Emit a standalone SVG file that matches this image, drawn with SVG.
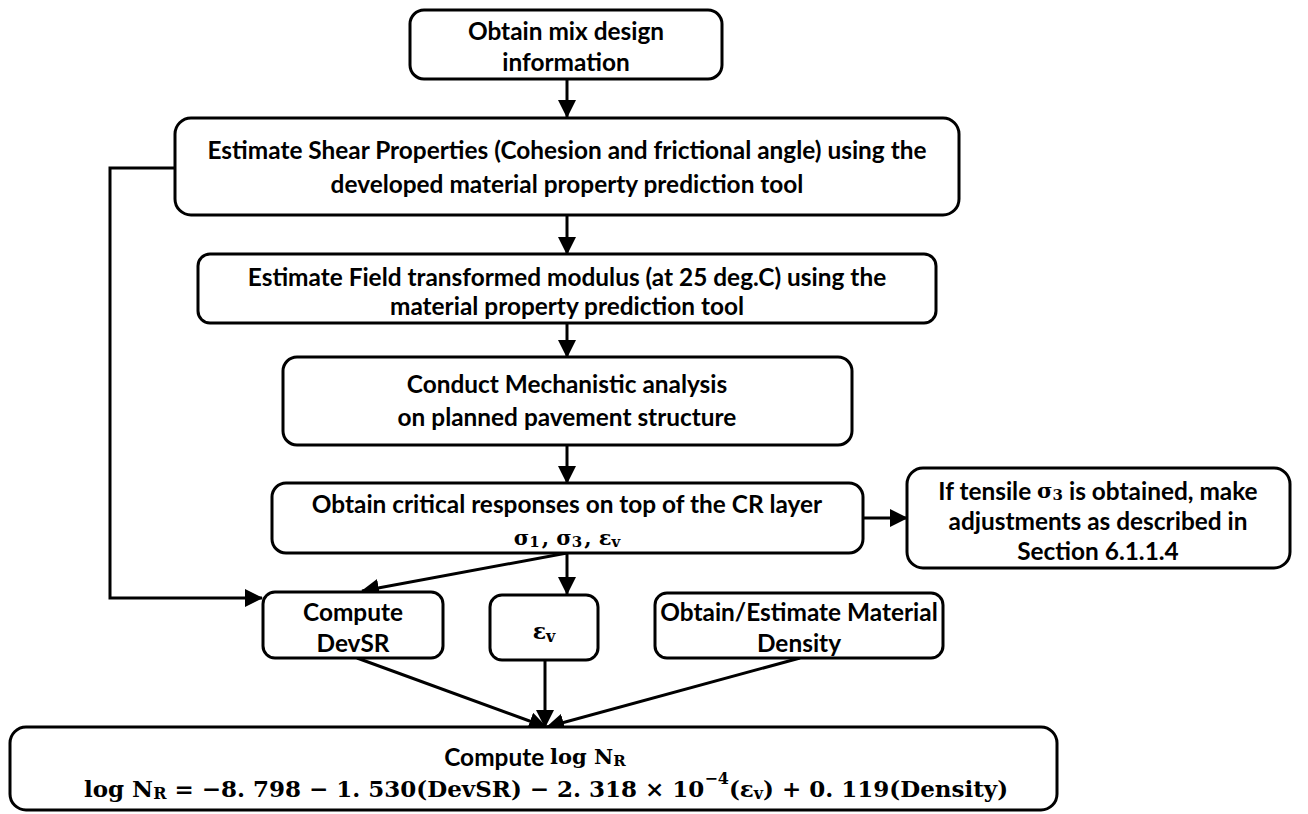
<svg xmlns="http://www.w3.org/2000/svg" width="1308" height="814" viewBox="0 0 1308 814">
  <style>
    .box { fill: #ffffff; stroke: #000000; stroke-width: 3; }
    .t { font-family: Lato, "Open Sans", "Liberation Sans", sans-serif; font-weight: bold; font-size: 24.4px; fill: #000000; text-anchor: middle; dominant-baseline: central; }
    .m { font-family: "DejaVu Serif", "Liberation Serif", serif; font-weight: bold; fill: #000000; text-anchor: middle; dominant-baseline: central; }
    .edge { fill: none; stroke: #000000; stroke-width: 3; }
  </style>
  <defs>
    <marker id="arrow" markerWidth="18" markerHeight="18" refX="17" refY="9" orient="auto" markerUnits="userSpaceOnUse">
      <path d="M0,0 L18,9 L0,18 Z" fill="#000000"/>
    </marker>
  </defs>

  <rect width="1308" height="814" fill="#ffffff"/>

  <!-- connectors -->
  <g id="connectors">
    <line class="edge" x1="567" y1="79" x2="567" y2="117" marker-end="url(#arrow)"/>
    <line class="edge" x1="567" y1="216" x2="567" y2="254" marker-end="url(#arrow)"/>
    <line class="edge" x1="567" y1="323" x2="567" y2="357" marker-end="url(#arrow)"/>
    <line class="edge" x1="567" y1="445" x2="567" y2="483" marker-end="url(#arrow)"/>
    <line class="edge" x1="863" y1="518" x2="907" y2="518" marker-end="url(#arrow)"/>
    <line class="edge" x1="567" y1="553" x2="567" y2="594" marker-end="url(#arrow)"/>
    <line class="edge" x1="567" y1="553" x2="362" y2="591" marker-end="url(#arrow)"/>
    <polyline class="edge" points="175,168 110,168 110,598 262,598" marker-end="url(#arrow)"/>
    <line class="edge" x1="357" y1="658" x2="546" y2="727" marker-end="url(#arrow)"/>
    <line class="edge" x1="545" y1="660" x2="545" y2="727" marker-end="url(#arrow)"/>
    <line class="edge" x1="800" y1="658" x2="547" y2="727" marker-end="url(#arrow)"/>
  </g>

  <g id="mix-design">
    <rect class="box" x="410" y="10" width="312" height="69" rx="14"/>
    <text class="t" x="566" y="30">Obtain mix design</text>
    <text class="t" x="566" y="61">information</text>
  </g>

  <g id="shear-properties">
    <rect class="box" x="175" y="118" width="784" height="97" rx="16"/>
    <text class="t" x="567" y="149">Estimate Shear Properties (Cohesion and frictional angle) using the</text>
    <text class="t" x="567" y="183">developed material property prediction tool</text>
  </g>

  <g id="field-modulus">
    <rect class="box" x="198" y="254" width="738" height="69" rx="12"/>
    <text class="t" x="567" y="276">Estimate Field transformed modulus (at 25 deg.C) using the</text>
    <text class="t" x="567" y="305">material property prediction tool</text>
  </g>

  <g id="mechanistic-analysis">
    <rect class="box" x="283" y="357" width="569" height="88" rx="14"/>
    <text class="t" x="567" y="383">Conduct Mechanistic analysis</text>
    <text class="t" x="567" y="416">on planned pavement structure</text>
  </g>

  <g id="critical-responses">
    <rect class="box" x="272" y="483" width="591" height="70" rx="14"/>
    <text class="t" x="567" y="503">Obtain critical responses on top of the CR layer</text>
    <text class="m" x="567" y="537" font-size="21">σ<tspan font-size="15" dy="5">1</tspan><tspan dy="-5" dx="2">, σ</tspan><tspan font-size="15" dy="5">3</tspan><tspan dy="-5" dx="2">, ε</tspan><tspan font-size="15" dy="5">v</tspan></text>
  </g>

  <g id="tensile-adjustment">
    <rect class="box" x="907" y="468" width="383" height="100" rx="16"/>
    <text class="t" x="1098" y="490">If tensile <tspan class="m" font-size="21">σ<tspan font-size="15" dy="5">3</tspan></tspan><tspan dy="-5"> is obtained, make</tspan></text>
    <text class="t" x="1098" y="520">adjustments as described in</text>
    <text class="t" x="1098" y="550">Section 6.1.1.4</text>
  </g>

  <g id="devsr">
    <rect class="box" x="263" y="592" width="180" height="66" rx="12"/>
    <text class="t" x="353" y="611">Compute</text>
    <text class="t" x="353" y="642">DevSR</text>
  </g>

  <g id="strain">
    <rect class="box" x="490" y="595" width="108" height="65" rx="12"/>
    <text class="m" x="544" y="631" font-size="22">ε<tspan font-size="16" dy="5">v</tspan></text>
  </g>

  <g id="density">
    <rect class="box" x="655" y="593" width="288" height="65" rx="12"/>
    <text class="t" x="799" y="611">Obtain/Estimate Material</text>
    <text class="t" x="799" y="642">Density</text>
  </g>

  <g id="log-nr">
    <rect class="box" x="10" y="727" width="1047" height="83" rx="16"/>
    <text class="t" x="535" y="756">Compute <tspan class="m" font-size="21">log N<tspan font-size="15" dy="5">R</tspan></tspan></text>
    <text class="m" x="546" y="788" font-size="23">log N<tspan font-size="16" dy="5">R</tspan><tspan dy="-5"> = −8. 798 − 1. 530(DevSR) − 2. 318 × 10</tspan><tspan font-size="16" dy="-10">−4</tspan><tspan dy="10">(ε</tspan><tspan font-size="16" dy="5">v</tspan><tspan dy="-5">) + 0. 119(Density)</tspan></text>
  </g>
</svg>
